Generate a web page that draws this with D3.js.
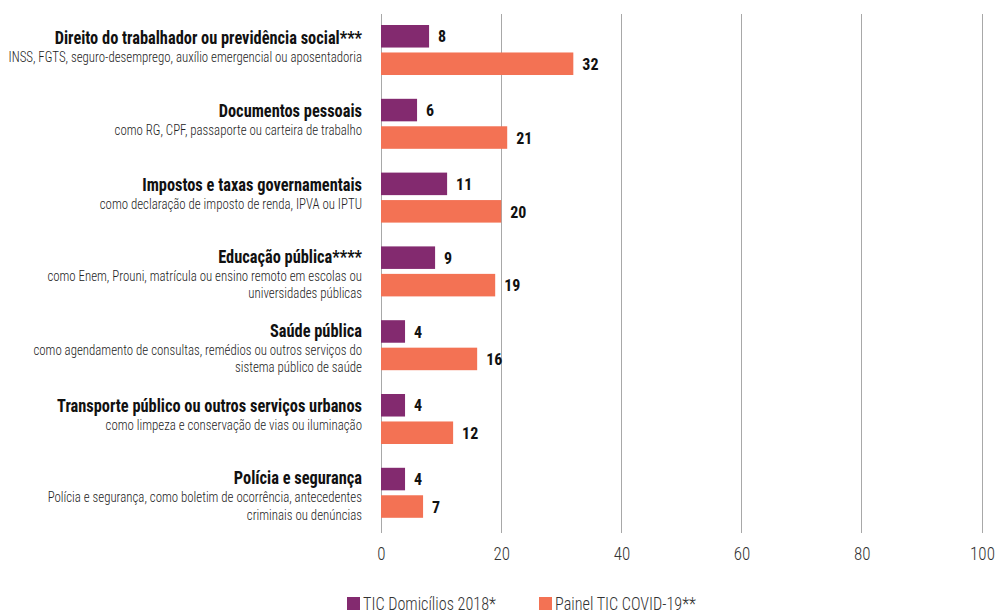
<!DOCTYPE html>
<html>
<head>
<meta charset="utf-8">
<script src="https://cdn.jsdelivr.net/npm/d3@7"></script>
<style>
  html, body { margin: 0; padding: 0; background: #fff; }
  svg { display: block; }
  text { font-family: "Liberation Sans Narrow", "Roboto Condensed", "DejaVu Sans Condensed", sans-serif; }
</style>
</head>
<body>
<svg id="chart" width="999" height="613"></svg>
<script>
const categories = [
  "Direito do trabalhador ou previdência social***",
  "Documentos pessoais",
  "Impostos e taxas governamentais",
  "Educação pública****",
  "Saúde pública",
  "Transporte público ou outros serviços urbanos",
  "Polícia e segurança"
];
const subtitles = [
  ["INSS, FGTS, seguro-desemprego, auxílio emergencial ou aposentadoria"],
  ["como RG, CPF, passaporte ou carteira de trabalho"],
  ["como declaração de imposto de renda, IPVA ou IPTU"],
  ["como Enem, Prouni, matrícula ou ensino remoto em escolas ou", "universidades públicas"],
  ["como agendamento de consultas, remédios ou outros serviços do", "sistema público de saúde"],
  ["como limpeza e conservação de vias ou iluminação"],
  ["Polícia e segurança, como boletim de ocorrência, antecedentes", "criminais ou denúncias"]
];
const seriesNames = ["TIC Domicílios 2018*", "Painel TIC COVID-19**"];
const domicilios2018 = [8, 6, 11, 9, 4, 4, 4];
const painelCovid = [32, 21, 20, 19, 16, 12, 7];
const xTicks = [0, 20, 40, 60, 80, 100];
const colors = ["#832a6f", "#f37254"];

const svg = d3.select("#chart");
const x = d3.scaleLinear().domain([0, 100]).range([381, 982]);
const y = d3.scaleBand().domain(categories).range([13.2, 529.6]).paddingInner(0.3225).paddingOuter(0.16);
const ySub = d3.scaleBand().domain(seriesNames).range([0, y.bandwidth()]).paddingInner(0.18);

// condensed text helper
function ctext(parent, tx, ty, sx, str, anchor) {
  const g = parent.append("g").attr("transform", `translate(${tx},${ty}) scale(${sx},1)`);
  return g.append("text").attr("x", 0).attr("y", 0).attr("text-anchor", anchor || "start").text(str);
}

// gridlines
svg.append("g").selectAll("line").data(xTicks).join("line")
  .attr("x1", d => x(d)).attr("x2", d => x(d))
  .attr("y1", 14).attr("y2", 533)
  .attr("stroke", "#a8a8a8").attr("stroke-width", 1)
  .attr("shape-rendering", "crispEdges");

// x axis labels
const xAxis = d3.axisBottom(x).tickValues(xTicks).tickSize(0).tickPadding(0);
const ax = svg.append("g").attr("transform", "translate(0,560)").call(xAxis);
ax.select(".domain").remove();
ax.selectAll(".tick text").attr("font-size", 18.5).attr("font-weight", 300).attr("fill", "#333")
  .attr("y", 0).attr("dy", 0).attr("transform", "scale(0.92,1)");

const rows = categories.map((c, i) => ({ c, i, vals: [domicilios2018[i], painelCovid[i]] }));

const groups = svg.append("g").selectAll("g").data(rows).join("g")
  .attr("transform", d => `translate(0,${y(d.c)})`);

groups.selectAll("rect").data(d => d.vals.map((v, k) => ({ v, k }))).join("rect")
  .attr("x", x(0)).attr("y", d => ySub(seriesNames[d.k]))
  .attr("width", d => x(d.v) - x(0)).attr("height", ySub.bandwidth())
  .attr("fill", d => colors[d.k]);

groups.each(function(d) {
  const g = d3.select(this);
  // value labels
  d.vals.forEach((v, k) => {
    ctext(g, x(v) + 9, ySub(seriesNames[k]) + ySub.bandwidth() / 2 + 6.2, 0.93, v)
      .attr("font-size", 17.2).attr("font-weight", "bold").attr("fill", "#111");
  });
  // category labels
  const n = subtitles[d.i].length;
  const base = n === 1 ? 18.5 : 16.5;
  ctext(g, 362, base, 0.91, d.c, "end")
    .attr("font-size", 18).attr("font-weight", "bold").attr("fill", "#111");
  subtitles[d.i].forEach((s, j) => {
    ctext(g, 362, base + 18 + j * 17.5, 0.92, s, "end")
      .attr("font-size", 14).attr("font-weight", 300).attr("fill", "#222");
  });
});

// legend
const leg = svg.append("g").attr("transform", "translate(347,597)");
const legX = [0, 192];
seriesNames.forEach((s, k) => {
  leg.append("rect").attr("x", legX[k]).attr("y", 0).attr("width", 13).attr("height", 13).attr("fill", colors[k]);
  ctext(leg, legX[k] + 16, 12.5, 0.9, s).attr("font-size", 18).attr("font-weight", 300).attr("fill", "#333");
});
</script>
</body>
</html>
